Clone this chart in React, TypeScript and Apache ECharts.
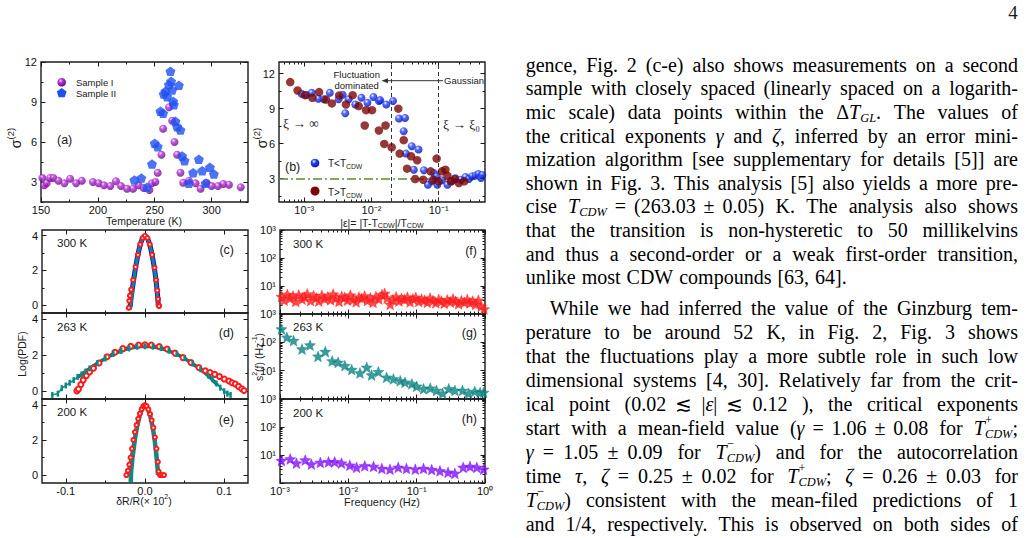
import { useEffect, useRef } from 'react';
import * as echarts from 'echarts';

type Pt = [number, number];

// ---------- (a) sigma^(2) against temperature ----------
const sampleI: Pt[] = [
  [151.2, 3.3], [152.9, 2.75], [155, 2.9], [158, 3.3], [160.9, 3.3], [165.3, 3.1], [170.6, 2.9], [175.6, 3.25],
  [180.9, 2.9], [185.9, 3.1], [195.6, 3.0], [200.6, 2.9], [205.3, 2.75], [210.9, 2.7], [215.9, 3.05], [220.3, 2.7],
  [225.6, 2.5], [230.9, 2.5], [235.9, 2.75], [240.3, 2.55], [245.3, 2.4], [247.6, 2.9], [250.6, 3.0], [252.6, 3.7],
  [255.9, 5.05], [257.4, 7.0], [262.6, 8.6], [265.3, 7.6], [267.4, 6.0], [269.7, 5.05], [272.6, 3.7], [275, 2.95],
  [280, 3.1], [285.9, 2.9], [290.3, 2.5], [295.6, 2.95], [300, 2.7], [305.6, 2.7], [310.3, 2.85], [315.3, 2.8], [325.6, 2.6],
];
const sampleII: Pt[] = [
  [232.1, 3.15], [238.2, 3.3], [243.2, 2.6], [247.6, 4.35], [250, 5.9], [252.6, 5.65], [255, 8.3], [257.4, 8.15],
  [257.9, 9.6], [259.4, 9.8], [260.9, 9.4], [262.4, 10.3], [263.8, 11.3], [264.4, 10.55], [265.3, 9.9], [266.2, 9.05],
  [266.8, 8.8], [268.2, 7.55], [269.7, 7.15], [271.2, 10.25], [272.6, 6.9], [274.1, 4.95], [276.2, 4.6], [280, 2.9],
  [283.8, 3.7], [288.8, 4.7], [291.8, 3.85], [294.7, 2.9], [298.5, 4.1], [302, 3.6],
];

// ---------- (b) sigma^(2) against reduced temperature |eps| ----------
const belowTcdw: Pt[] = [
  [0.000912, 10.28], [0.00108, 10.16], [0.00129, 10.36], [0.00162, 9.85], [0.00195, 9.8], [0.0024, 10.36],
  [0.00324, 9.8], [0.00372, 10.2], [0.00407, 8.6], [0.00457, 9.8], [0.00575, 9.35], [0.00708, 9.93], [0.00871, 9.5],
  [0.0107, 10.0], [0.0129, 9.65], [0.0135, 9.73], [0.0166, 9.36], [0.0209, 9.65], [0.0257, 8.16], [0.0316, 8.2],
  [0.0302, 7.07], [0.0325, 5.15], [0.0398, 5.78], [0.0501, 5.5], [0.0427, 3.77], [0.0603, 3.72], [0.0692, 2.48],
  [0.0851, 3.49], [0.0933, 3.2], [0.0794, 2.77], [0.0955, 2.48], [0.112, 2.86], [0.135, 2.48], [0.158, 2.77],
  [0.178, 3.03], [0.214, 2.91], [0.251, 3.14], [0.282, 2.97], [0.316, 3.2], [0.355, 3.26], [0.389, 3.4],
  [0.427, 3.06], [0.447, 3.32],
];
const aboveTcdw: Pt[] = [
  [0.000617, 11.28], [0.000794, 10.56], [0.00102, 10.16], [0.00132, 9.93], [0.00166, 10.42], [0.00209, 9.79],
  [0.00257, 9.45], [0.00331, 10.13], [0.00417, 9.36], [0.00525, 10.16], [0.00646, 9.22], [0.00794, 7.56],
  [0.00832, 8.87], [0.0102, 8.87], [0.0129, 7.13], [0.0162, 7.56], [0.0155, 5.98], [0.02, 5.69], [0.0251, 9.0],
  [0.0302, 6.3], [0.0263, 5.15], [0.0339, 3.86], [0.0389, 4.92], [0.0479, 4.58], [0.0447, 2.97], [0.0589, 2.91],
  [0.0759, 3.63], [0.0933, 4.72], [0.0832, 2.91], [0.1, 2.77], [0.112, 3.63], [0.126, 3.77], [0.135, 3.26],
  [0.151, 2.77], [0.174, 2.97], [0.2, 2.63], [0.24, 2.77],
];
const crossoverEps = 0.0186;
const gaussianEps = 0.1;
const gaussianSigma = 3;

// ---------- (c)-(e) Log(PDF) of dR/R ----------
const pdf300Data: Pt[] = [
  [-0.0205, -0.15], [-0.0198, 0.25], [-0.019, 0.55], [-0.0175, 0.9], [-0.015, 1.45], [-0.012, 2.2], [-0.009, 2.9],
  [-0.006, 3.5], [-0.003, 3.87], [0, 4.0], [0.003, 3.87], [0.006, 3.5], [0.009, 2.9], [0.012, 2.15], [0.014, 1.45],
  [0.0155, 0.85], [0.0165, 0.35], [0.0172, 0.0], [0.0178, -0.05],
];
const pdf300Blue: Pt[] = [
  [-0.0188, -0.1], [-0.0175, 0.45], [-0.015, 1.25], [-0.012, 2.15], [-0.009, 2.9], [-0.006, 3.5], [-0.003, 3.87],
  [0, 4.0], [0.003, 3.87], [0.006, 3.5], [0.009, 2.9], [0.012, 2.1], [0.014, 1.4], [0.0158, 0.6], [0.0168, 0.0],
];
const pdf300Fit: Pt[] = [
  [-0.0185, -0.25], [-0.017, 0.4], [-0.015, 1.2], [-0.012, 2.15], [-0.009, 2.9], [-0.006, 3.5], [-0.003, 3.87],
  [0, 4.0], [0.003, 3.87], [0.006, 3.5], [0.009, 2.9], [0.012, 2.1], [0.014, 1.35], [0.0155, 0.6], [0.0165, 0.0],
];
const pdf263Data: Pt[] = [
  [-0.086, 0.0], [-0.084, 0.1], [-0.081, 0.35], [-0.078, 0.6], [-0.074, 0.85], [-0.07, 1.05], [-0.065, 1.26],
  [-0.058, 1.55], [-0.048, 1.9], [-0.038, 2.15], [-0.028, 2.35], [-0.018, 2.48], [-0.008, 2.55], [0, 2.57],
  [0.008, 2.55], [0.018, 2.47], [0.028, 2.33], [0.038, 2.1], [0.048, 1.85], [0.058, 1.58], [0.068, 1.3],
  [0.076, 1.12], [0.082, 1.02], [0.088, 0.92], [0.094, 0.8], [0.1, 0.66], [0.106, 0.55], [0.11, 0.45],
  [0.114, 0.38], [0.118, 0.25], [0.122, 0.12], [0.125, 0.02],
];
const pdf263Second: Pt[] = [
  [-0.117, -0.22], [-0.11, -0.15], [-0.105, 0.15], [-0.1, 0.3], [-0.095, 0.45], [-0.09, 0.6], [-0.085, 0.78],
  [-0.08, 0.92], [-0.075, 1.08], [-0.07, 1.25], [-0.06, 1.55], [-0.05, 1.8], [-0.04, 2.05], [-0.03, 2.22],
  [-0.02, 2.36], [-0.01, 2.45], [0, 2.48], [0.01, 2.46], [0.02, 2.38], [0.03, 2.24], [0.04, 2.05], [0.05, 1.82],
  [0.06, 1.52], [0.07, 1.2], [0.08, 0.85], [0.085, 0.65], [0.09, 0.42], [0.095, 0.18], [0.1, -0.02],
  [0.104, -0.15], [0.108, -0.22],
];
const pdf263Fit: Pt[] = [
  [-0.085, 0.75], [-0.075, 1.08], [-0.065, 1.4], [-0.055, 1.68], [-0.045, 1.93], [-0.035, 2.13], [-0.025, 2.3],
  [-0.015, 2.41], [-0.005, 2.47], [0.005, 2.47], [0.015, 2.41], [0.025, 2.3], [0.035, 2.13], [0.045, 1.93],
  [0.055, 1.66], [0.065, 1.36], [0.075, 1.02], [0.085, 0.62], [0.092, 0.3],
];
const pdf200Data: Pt[] = [
  [-0.0235, 0.0], [-0.0215, 0.25], [-0.0198, 0.6], [-0.0182, 1.0], [-0.0164, 1.5], [-0.0146, 2.0], [-0.0127, 2.45],
  [-0.0107, 2.85], [-0.0086, 3.2], [-0.0064, 3.5], [-0.0042, 3.75], [-0.002, 3.93], [0, 3.99], [0.002, 3.93],
  [0.0042, 3.74], [0.0064, 3.47], [0.0085, 3.12], [0.0105, 2.7], [0.0125, 2.15], [0.0145, 1.5], [0.0162, 0.75],
  [0.0172, 0.2], [0.019, 0.0], [0.0215, 0.0], [0.024, 0.0],
];
const pdf200Fit: Pt[] = [
  [-0.018, -0.4], [-0.0175, 0.2], [-0.016, 0.9], [-0.014, 1.6], [-0.012, 2.25], [-0.01, 2.75], [-0.008, 3.15],
  [-0.006, 3.5], [-0.004, 3.75], [-0.002, 3.92], [0, 3.97], [0.002, 3.9], [0.004, 3.72], [0.006, 3.45],
  [0.008, 3.1], [0.01, 2.65], [0.012, 2.05], [0.014, 1.3], [0.016, 0.3], [0.0165, 0.0],
];

// ---------- (f)-(h) second spectrum s^2(f) ----------
const freq300 = [
  0.00105, 0.00115, 0.00128, 0.0014, 0.00155, 0.0017, 0.00188, 0.0021, 0.0023, 0.0025, 0.0028, 0.0031, 0.0034,
  0.0037, 0.0041, 0.0045, 0.005, 0.0055, 0.006, 0.0066, 0.0073, 0.008, 0.0088, 0.0097, 0.0107, 0.0118, 0.013,
  0.0143, 0.0157, 0.0173, 0.019, 0.021, 0.023, 0.0253, 0.028, 0.031, 0.034, 0.037, 0.041, 0.045, 0.05, 0.055,
  0.06, 0.066, 0.073, 0.08, 0.088, 0.097, 0.107, 0.118, 0.13, 0.143, 0.157, 0.173, 0.19, 0.21, 0.23, 0.253,
  0.28, 0.31, 0.34, 0.37, 0.41, 0.45, 0.5, 0.55, 0.6, 0.66, 0.73, 0.8, 0.88, 0.97,
];
const s2At300 = [
  4.2, 3.1, 5.0, 3.6, 4.4, 2.8, 4.8, 3.4, 4.0, 5.2, 3.0, 4.5, 3.8, 2.9, 4.6, 3.5, 4.1, 3.2, 5.1, 3.7, 2.8, 4.3,
  3.9, 3.1, 4.7, 3.3, 2.7, 4.0, 3.6, 4.4, 3.0, 3.8, 2.6, 4.2, 3.4, 4.9, 5.4, 3.7, 2.2, 3.2, 4.1, 2.9, 3.6, 3.3,
  4.0, 2.7, 3.5, 3.9, 2.8, 3.4, 3.1, 2.6, 3.7, 3.0, 2.5, 3.3, 2.9, 2.4, 3.2, 2.7, 3.5, 2.8, 2.3, 3.0, 2.6, 3.3,
  2.5, 2.9, 2.2, 3.1, 1.9, 1.5,
];
const freq263 = [
  0.00105, 0.00126, 0.00158, 0.0021, 0.00275, 0.0036, 0.0046, 0.0058, 0.0071, 0.0089, 0.0112, 0.0148, 0.0186,
  0.0219, 0.0275, 0.0363, 0.0457, 0.0575, 0.0676, 0.0851, 0.1, 0.126, 0.158, 0.195, 0.24, 0.295, 0.363, 0.468,
  0.575, 0.708, 0.85, 0.955,
];
const s2At263 = [
  295, 150, 115, 58, 80, 32, 47, 22, 19.5, 15, 10.9, 8.3, 13, 7, 9.1, 5.8, 5.1, 4.4, 3.9, 3.4, 2.8, 2.3, 2.4,
  2.0, 1.6, 2.3, 2.0, 2.0, 1.6, 1.85, 1.7, 1.7,
];
const freq200 = [
  0.00105, 0.00141, 0.00174, 0.00234, 0.00288, 0.00389, 0.00513, 0.00631, 0.00794, 0.0105, 0.0132, 0.0174,
  0.0234, 0.0309, 0.0407, 0.0537, 0.0708, 0.0955, 0.126, 0.166, 0.219, 0.288, 0.363, 0.479, 0.603, 0.759, 0.955,
];
const s2At200 = [
  6.3, 7.2, 5.1, 6.6, 4.7, 5.4, 5.7, 5.7, 5.1, 4.3, 3.6, 4.1, 3.9, 3.3, 3.1, 3.6, 3.3, 3.1, 3.3, 3.0, 2.7, 2.4,
  2.2, 3.6, 3.9, 3.6, 3.1,
];

// ---------- tick positions and labels ----------
const tempTicks = [150, 200, 250, 300];
const tempMinor = [175, 225, 275, 325];
const sigmaTicks = [3, 6, 9, 12];
const sigmaMinor = [1.5, 4.5, 7.5, 10.5];
const epsTicks = [1e-3, 1e-2, 1e-1];
const drTicks = [-0.1, 0, 0.1];
const drMinor = [-0.05, 0.05];
const pdfTicks = [0, 2, 4];
const pdfMinor = [1, 3];
const freqTicks = [1e-3, 1e-2, 1e-1, 1];
const s2Ticks = [1, 10, 100, 1000];
const s2Labels = [10, 100, 1000];

// ---------- text of the right-hand column ----------
// *x* italic, _{..} subscript, ^{..} superscript, ~ math space (stretches less than a word space)
const paragraphOne = [
  'gence, Fig. 2 (c-e) also shows measurements on a second',
  'sample with closely spaced (linearly spaced on a logarith-',
  'mic scale) data points within the Δ*T*_{GL}. The values of',
  'the critical exponents *γ* and *ζ*, inferred by an error mini-',
  'mization algorithm [see supplementary for details [5]] are',
  'shown in Fig. 3. This analysis [5] also yields a more pre-',
  'cise *T*_{CDW}~=~(263.03~±~0.05) K. The analysis also shows',
  'that the transition is non-hysteretic to 50 millikelvins',
  'and thus a second-order or a weak first-order transition,',
  'unlike most CDW compounds [63, 64].',
];
const paragraphTwo = [
  'While we had inferred the value of the Ginzburg tem-',
  'perature to be around 52 K, in Fig. 2, Fig. 3 shows',
  'that the fluctuations play a more subtle role in such low',
  'dimensional systems [4, 30]. Relatively far from the crit-',
  'ical point (0.02~≲~|*ε*|~≲~0.12 ), the critical exponents',
  'start with a mean-field value (*γ*~=~1.06~±~0.08 for *T*^{+}_{CDW};',
  '*γ*~=~1.05~±~0.09 for *T*^{−}_{CDW}) and for the autocorrelation',
  'time *τ*, *ζ*~=~0.25~±~0.02 for *T*^{+}_{CDW}; *ζ*~=~0.26~±~0.03 for',
  '*T*^{−}_{CDW}) consistent with the mean-filed predictions of 1',
  'and 1/4, respectively. This is observed on both sides of',
];

const SANS = '"Liberation Sans", Arial, sans-serif';
const SERIF = '"Liberation Serif", "DejaVu Serif", serif';
const INK = '#1a1a1a';
const STAR = 'path://M12,1 L14.9,8.6 L23,9.2 L16.8,14.5 L18.8,22.5 L12,18.1 L5.2,22.5 L7.2,14.5 L1,9.2 L9.1,8.6 Z';
const PENTAGON = 'path://M12,1 L23.4,9.3 L19.1,22.7 L4.9,22.7 L0.6,9.3 Z';

// ---------- rich text runs built from separate text pieces ----------
type Kind = 'n' | 'i' | 'b' | 'B' | 'p' | 'q';
type Part = [string, Kind];

let measureCtx: CanvasRenderingContext2D | null = null;
function measure(text: string, font: string): number {
  if (!measureCtx) measureCtx = document.createElement('canvas').getContext('2d');
  measureCtx!.font = font;
  return measureCtx!.measureText(text).width;
}
function partFont(kind: Kind, size: number, family: string) {
  const small = +(size * 0.68).toFixed(1);
  const script = +(size * 0.62).toFixed(1);
  if (kind === 'n') return `${size}px ${family}`;
  if (kind === 'i') return `italic ${size}px ${family}`;
  if (kind === 'B') return `italic ${script}px ${family}`;
  if (kind === 'q') return `${script}px ${family}`;
  return `${small}px ${family}`;
}
function partDy(kind: Kind, size: number) {
  if (kind === 'b' || kind === 'B') return size * 0.3;
  if (kind === 'q') return -size * 0.42;
  if (kind === 'p') return -size * 0.36;
  return 0;
}
function layoutParts(parts: Part[], size: number, family: string) {
  let x = 0;
  let stackStart = -1;
  let stackW = 0;
  const items: { text: string; font: string; dx: number; dy: number }[] = [];
  parts.forEach(([text, kind]) => {
    const font = partFont(kind, size, family);
    const w = measure(text, font);
    const dy = partDy(kind, size);
    if (kind === 'q') {
      stackStart = x;
      stackW = w;
      items.push({ text, font, dx: x, dy });
      return;
    }
    if (stackStart >= 0 && (kind === 'b' || kind === 'B')) {
      items.push({ text, font, dx: stackStart, dy });
      x = stackStart + Math.max(stackW, w);
      stackStart = -1;
      return;
    }
    stackStart = -1;
    items.push({ text, font, dx: x, dy });
    x += w;
  });
  return { items, width: x };
}
function textEl(text: string, font: string, x: number, y: number, fill: string) {
  return {
    type: 'text', x, y, silent: true,
    style: { text, font, fill, align: 'left', verticalAlign: 'middle' },
  };
}
function run(parts: Part[], x: number, y: number, size: number, family: string, align = 'left', fill = INK) {
  const { items, width } = layoutParts(parts, size, family);
  const x0 = align === 'center' ? x - width / 2 : align === 'right' ? x - width : x;
  return items.map((it) => textEl(it.text, it.font, x0 + it.dx, y + it.dy, fill));
}
// a run turned by 90 degrees, reading upwards, centred on (x, y)
function upright(parts: Part[], x: number, y: number, size: number) {
  return { type: 'group', x, y, rotation: Math.PI / 2, silent: true, children: run(parts, 0, 0, size, SANS, 'center') };
}
function plain(text: string, x: number, y: number, size: number, align = 'left', family = SANS) {
  return {
    type: 'text', x, y, silent: true,
    style: { text, font: `${size}px ${family}`, fill: INK, align, verticalAlign: 'middle' },
  };
}

function parseChunk(w: string): Part[] {
  const parts: Part[] = [];
  let buf = '';
  let italic = false;
  const flush = () => {
    if (buf) parts.push([buf, italic ? 'i' : 'n']);
    buf = '';
  };
  let i = 0;
  while (i < w.length) {
    const c = w[i];
    if (c === '*') { flush(); italic = !italic; i++; continue; }
    if ((c === '_' || c === '^') && w[i + 1] === '{') {
      flush();
      const end = w.indexOf('}', i);
      const content = w.slice(i + 2, end);
      if (c === '^') parts.push([content, w[end + 1] === '_' ? 'q' : 'p']);
      else parts.push([content, 'B']);
      i = end + 1;
      continue;
    }
    buf += c;
    i++;
  }
  flush();
  return parts;
}

// justified lines: word spaces take the full stretch, math spaces a smaller share
function paragraphEls(lines: string[], ys: number[], left: number, right: number, indent: number, size: number, raggedLast: boolean) {
  const els: any[] = [];
  const mathBase = size * 0.2;
  const mathWeight = 0.35;
  lines.forEach((line, li) => {
    const chunks: { lay: ReturnType<typeof layoutParts>; math: boolean }[] = [];
    line.split(' ').filter(Boolean).forEach((word) => {
      word.split('~').forEach((c, ci) => {
        chunks.push({ lay: layoutParts(parseChunk(c), size, SERIF), math: ci > 0 });
      });
    });
    const start = left + (li === 0 ? indent : 0);
    const ragged = raggedLast && li === lines.length - 1;
    let natural = 0;
    let weights = 0;
    chunks.forEach((c, i) => {
      natural += c.lay.width;
      if (i > 0) {
        if (c.math) { natural += mathBase; weights += mathWeight; } else weights += 1;
      }
    });
    const stretch = ragged || weights === 0 ? size * 0.3 : (right - start - natural) / weights;
    let x = start;
    chunks.forEach((c, i) => {
      if (i > 0) x += c.math ? mathBase + (ragged ? 0 : mathWeight * stretch) : stretch;
      c.lay.items.forEach((it) => els.push(textEl(it.text, it.font, x + it.dx, ys[li] + it.dy, '#000')));
      x += c.lay.width;
    });
  });
  return els;
}

// ---------- axes ----------
const SUP: Record<string, string> = { '-': '⁻', '0': '⁰', '1': '¹', '2': '²', '3': '³' };
const pow10Label = (v: number) => '10' + String(Math.round(v)).split('').map((c) => SUP[c] || c).join('');
const decadeMinors = (from: number, to: number) => {
  const out: number[] = [];
  for (let e = from; e < to; e++) for (let m = 2; m <= 9; m++) out.push(m * Math.pow(10, e));
  return out;
};

interface AxisSpec {
  log: boolean; min: number; max: number; major: number[]; minor: number[];
  labels: number[] | null; fmt?: (v: number) => string;
}

function App() {
  const ref = useRef<HTMLDivElement>(null);

  useEffect(() => {
    if (!ref.current) return;
    const chart = echarts.init(ref.current, null, { renderer: 'svg' });

    const grids = [
      { left: 41, top: 62, width: 207, height: 140 },  // a
      { left: 279, top: 62, width: 206, height: 140 }, // b
      { left: 42, top: 230, width: 206, height: 83 },  // c
      { left: 42, top: 313, width: 206, height: 86 },  // d
      { left: 42, top: 399, width: 206, height: 84 },  // e
      { left: 280, top: 230, width: 205, height: 84 }, // f
      { left: 280, top: 314, width: 205, height: 85 }, // g
      { left: 280, top: 399, width: 205, height: 84 }, // h
    ].map((g) => ({ ...g, show: true, borderColor: INK, borderWidth: 1.4, backgroundColor: 'transparent' }));

    const xAxes: any[] = [];
    const yAxes: any[] = [];
    const tf = (log: boolean) => (v: number) => (log ? Math.log10(v) : v);

    // one hidden axis carries the data; four tick-only axes draw the frame ticks on every side
    function addAxes(list: any[], dim: 'x' | 'y', gridIndex: number, s: AxisSpec): number {
      const dataIndex = list.length;
      list.push({ type: s.log ? 'log' : 'value', logBase: 10, gridIndex, min: s.min, max: s.max, show: false });
      const t = tf(s.log);
      const sides = dim === 'x' ? ['bottom', 'top'] : ['left', 'right'];
      sides.forEach((position, si) => {
        [s.major, s.minor].forEach((ticks, ti) => {
          const withLabels = si === 0 && ti === 0 && !!s.labels;
          list.push({
            type: 'value', gridIndex, position, min: t(s.min), max: t(s.max),
            axisLine: { show: false, onZero: false },
            splitLine: { show: false },
            axisTick: {
              show: true, inside: true, length: ti === 0 ? 4.5 : 2.5,
              customValues: ticks.map(t), lineStyle: { color: INK, width: 1 },
            },
            axisLabel: withLabels
              ? {
                  show: true, customValues: s.labels!.map(t), formatter: s.fmt,
                  color: '#111', fontSize: 11, fontFamily: SANS, margin: dim === 'x' ? 2 : 4,
                }
              : { show: false },
          });
        });
      });
      return dataIndex;
    }

    const tempX: AxisSpec = { log: false, min: 150, max: 332, major: tempTicks, minor: tempMinor, labels: tempTicks };
    const sigmaYa: AxisSpec = { log: false, min: 1.5, max: 12, major: sigmaTicks, minor: sigmaMinor, labels: sigmaTicks };
    const epsX: AxisSpec = {
      log: true, min: 4.2e-4, max: 0.49, major: epsTicks, minor: decadeMinors(-4, 0).filter((v) => v > 4.2e-4 && v < 0.49),
      labels: epsTicks, fmt: pow10Label,
    };
    const sigmaYb: AxisSpec = { log: false, min: 1, max: 13, major: sigmaTicks, minor: sigmaMinor, labels: sigmaTicks };
    const drX = (labels: boolean): AxisSpec => ({
      log: false, min: -0.13, max: 0.13, major: drTicks, minor: drMinor, labels: labels ? drTicks : null,
      fmt: (v: number) => (Math.abs(v) < 1e-9 ? '0.0' : v.toFixed(1)),
    });
    const pdfY: AxisSpec = { log: false, min: -0.45, max: 4.33, major: pdfTicks, minor: pdfMinor, labels: pdfTicks };
    const freqX = (labels: boolean): AxisSpec => ({
      log: true, min: 1e-3, max: 1, major: freqTicks, minor: decadeMinors(-3, 0), labels: labels ? freqTicks : null, fmt: pow10Label,
    });
    const s2Y: AxisSpec = { log: true, min: 1, max: 1000, major: s2Ticks, minor: decadeMinors(0, 3), labels: s2Labels, fmt: pow10Label };

    const xa = addAxes(xAxes, 'x', 0, tempX);
    const ya = addAxes(yAxes, 'y', 0, sigmaYa);
    const xb = addAxes(xAxes, 'x', 1, epsX);
    const yb = addAxes(yAxes, 'y', 1, sigmaYb);
    const xc = addAxes(xAxes, 'x', 2, drX(false));
    const yc = addAxes(yAxes, 'y', 2, pdfY);
    const xd = addAxes(xAxes, 'x', 3, drX(false));
    const yd = addAxes(yAxes, 'y', 3, pdfY);
    const xe = addAxes(xAxes, 'x', 4, drX(true));
    const ye = addAxes(yAxes, 'y', 4, pdfY);
    const xf = addAxes(xAxes, 'x', 5, freqX(false));
    const yf = addAxes(yAxes, 'y', 5, s2Y);
    const xg = addAxes(xAxes, 'x', 6, freqX(false));
    const yg = addAxes(yAxes, 'y', 6, s2Y);
    const xh = addAxes(xAxes, 'x', 7, freqX(true));
    const yh = addAxes(yAxes, 'y', 7, s2Y);

    const purpleBall = () => new echarts.graphic.RadialGradient(0.38, 0.32, 0.7, [
      { offset: 0, color: '#f8dcff' }, { offset: 0.35, color: '#b52fd6' }, { offset: 1, color: '#6a0a8a' },
    ]);
    const blueBall = () => new echarts.graphic.RadialGradient(0.38, 0.32, 0.7, [
      { offset: 0, color: '#eef2ff' }, { offset: 0.35, color: '#2a46ff' }, { offset: 1, color: '#0010b0' },
    ]);

    const scatter = (xi: number, yi: number, data: Pt[], extra: any) => ({
      type: 'scatter', xAxisIndex: xi, yAxisIndex: yi, data, silent: true, ...extra,
    });
    const curve = (xi: number, yi: number, data: Pt[], color: string, width: number, extra: any = {}) => ({
      type: 'line', xAxisIndex: xi, yAxisIndex: yi, data, silent: true, showSymbol: false, symbol: 'none',
      lineStyle: { color, width }, ...extra,
    });
    const zip = (xs: number[], ys: number[]): Pt[] => xs.map((x, i) => [x, ys[i]]);
    const redData = (xi: number, yi: number, data: Pt[], size = 5) =>
      curve(xi, yi, data, '#ff1a1a', 2, {
        symbol: 'emptyCircle', showSymbol: true, symbolSize: size,
        itemStyle: { color: '#ff1a1a', borderColor: '#ff1a1a', borderWidth: 1.3 },
      });
    const stars = (xi: number, yi: number, data: Pt[], color: string) =>
      scatter(xi, yi, data, { symbol: STAR, symbolKeepAspect: true, symbolSize: 11, itemStyle: { color, borderColor: color, borderWidth: 0.5 } });

    const series: any[] = [
      // (a)
      scatter(xa, ya, sampleI, { symbol: 'circle', symbolSize: 8, itemStyle: { color: purpleBall() } }),
      scatter(xa, ya, sampleII, { symbol: PENTAGON, symbolKeepAspect: true, symbolSize: 10, itemStyle: { color: '#2150f2' } }),
      // (b)
      scatter(xb, yb, belowTcdw, {
        symbol: 'circle', symbolSize: 8, itemStyle: { color: blueBall() },
        markLine: {
          silent: true, symbol: 'none', z: 1, animation: false, label: { show: false },
          data: [
            { xAxis: crossoverEps, lineStyle: { type: [4, 3], color: '#333', width: 1 } },
            { xAxis: gaussianEps, lineStyle: { type: [4, 3], color: '#333', width: 1 } },
            { yAxis: gaussianSigma, lineStyle: { type: [9, 3, 2, 3], color: '#5d8c2e', width: 1.5 } },
          ],
        },
      }),
      scatter(xb, yb, aboveTcdw, { symbol: 'circle', symbolSize: 8.5, itemStyle: { color: '#7b0606' } }),
      // (c)
      redData(xc, yc, pdf300Data, 4),
      curve(xc, yc, pdf300Blue, '#0010ff', 5),
      curve(xc, yc, pdf300Fit, '#0c8a88', 3.2),
      // (d)
      redData(xd, yd, pdf263Data),
      curve(xd, yd, pdf263Second, '#0c8a88', 1.5, {
        symbol: 'rect', showSymbol: true, symbolSize: [2.5, 6], itemStyle: { color: '#0c8a88' },
      }),
      curve(xd, yd, pdf263Fit, '#0b7c7c', 3.5),
      // (e)
      redData(xe, ye, pdf200Data, 4),
      curve(xe, ye, pdf200Fit, '#0c8a88', 4.5),
      // (f)-(h)
      stars(xf, yf, zip(freq300, s2At300), '#ff1f1f'),
      stars(xg, yg, zip(freq263, s2At263), '#0a8383'),
      stars(xh, yh, zip(freq200, s2At200), '#8010ff'),
    ];

    // ---------- annotations, legends, titles ----------
    const g: any[] = [];
    g.push(plain('(a)', 57, 140, 12.5));
    g.push(plain('(b)', 285, 167, 12.5));
    [['300 K', '(c)', 243, 250], ['263 K', '(d)', 327, 333], ['200 K', '(e)', 412, 420]].forEach(([t, tag, y1, y2]) => {
      g.push(plain(t as string, 57, y1 as number, 11.5));
      g.push(plain(tag as string, 234, y2 as number, 12.5, 'right'));
    });
    [['300 K', '(f)', 244, 251], ['263 K', '(g)', 327, 333], ['200 K', '(h)', 413, 419]].forEach(([t, tag, y1, y2]) => {
      g.push(plain(t as string, 293, y1 as number, 11.5));
      g.push(plain(tag as string, 477, y2 as number, 12.5, 'right'));
    });
    // legend (a)
    g.push({ type: 'circle', shape: { cx: 61.7, cy: 82.3, r: 4.3 }, style: { fill: purpleBall() }, silent: true });
    g.push(plain('Sample I', 76, 82.5, 9.5));
    g.push({
      type: 'polygon', silent: true,
      shape: { points: [[61.7, 88], [66.6, 91.5], [64.7, 97.2], [58.7, 97.2], [56.8, 91.5]] },
      style: { fill: '#2150f2' },
    });
    g.push(plain('Sample II', 76, 93.5, 9.5));
    // legend (b)
    g.push({ type: 'circle', shape: { cx: 315, cy: 163, r: 4.3 }, style: { fill: blueBall() }, silent: true });
    g.push(...run([['T<T', 'n'], ['CDW', 'b']], 328, 163.5, 10, SANS));
    g.push({ type: 'circle', shape: { cx: 315, cy: 191, r: 4.5 }, style: { fill: '#7b0606' }, silent: true });
    g.push(...run([['T>T', 'n'], ['CDW', 'b']], 328, 192.5, 10, SANS));
    // regimes in (b)
    g.push(plain('Fluctuation', 356.7, 74.3, 9.5, 'center'));
    g.push(plain('dominated', 356.7, 85.7, 9.5, 'center'));
    g.push(plain('Gaussian', 444, 80.7, 9.5));
    g.push({ type: 'line', silent: true, shape: { x1: 443, y1: 80.7, x2: 386, y2: 80.7 }, style: { stroke: '#333', lineWidth: 1 } });
    g.push({ type: 'polygon', silent: true, shape: { points: [[381.5, 80.7], [388, 78.2], [388, 83.2]] }, style: { fill: '#333' } });
    g.push(plain('ξ → ∞', 283, 123, 13.5, 'left', SERIF));
    g.push(plain('ξ → ξ₀', 443, 124, 13.5, 'left', SERIF));
    // axis titles
    g.push(plain('Temperature (K)', 144, 220.5, 10.5, 'center'));
    g.push(upright([['σ', 'n'], ['(2)', 'p']], 16, 138, 14));
    g.push(upright([['σ', 'n'], ['(2)', 'p']], 262, 138, 14));
    g.push(...run([['|ε|= |T-T', 'n'], ['CDW', 'b'], ['|/T', 'n'], ['CDW', 'b']], 382, 222.5, 10.5, SANS, 'center'));
    g.push(upright([['Log(PDF)', 'n']], 22, 354, 10.5));
    g.push(upright([['s', 'n'], ['2', 'p'], ['(f) (Hz', 'n'], ['-1', 'p'], [')', 'n']], 259, 357, 10.5));
    g.push(...run([['δR/R(× 10', 'n'], ['2', 'p'], [')', 'n']], 144, 501, 10.5, SANS, 'center'));
    g.push(plain('Frequency (Hz)', 382, 501.5, 11, 'center'));

    // right-hand column of the page
    g.push(plain('4', 1013, 12, 19, 'center', SERIF));
    const ys1 = [66.7, 90.3, 114, 137.6, 161.2, 184.8, 208.4, 232, 255.6, 279.2].map((y) => y - 2);
    const ys2 = [310, 334, 358, 382, 406, 430, 454, 478, 502, 525.5].map((y) => y - 2);
    g.push(...paragraphEls(paragraphOne, ys1, 525.7, 1018, 0, 20, true));
    g.push(...paragraphEls(paragraphTwo, ys2, 525.7, 1018, 24, 20, false));

    chart.setOption({
      animation: false,
      backgroundColor: '#ffffff',
      grid: grids,
      xAxis: xAxes,
      yAxis: yAxes,
      series,
      graphic: { elements: g },
    });

    return () => chart.dispose();
  }, []);

  return (
    <div
      ref={ref}
      style={{ position: 'fixed', left: 0, top: 0, width: 1027, height: 538, background: '#fff' }}
    />
  );
}

export default App;
